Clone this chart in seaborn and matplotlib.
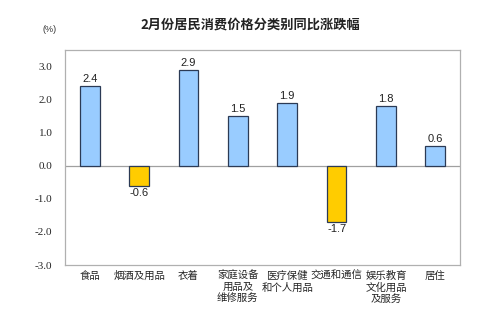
import matplotlib
matplotlib.use("Agg")
import matplotlib.pyplot as plt
import seaborn as sns
import pandas as pd

categories = ["食品", "烟酒及用品", "衣着", "家庭设备\n用品及\n维修服务", "医疗保健\n和个人用品",
              "交通和通信", "娱乐教育\n文化用品\n及服务", "居住"]
values = [2.4, -0.6, 2.9, 1.5, 1.9, -1.7, 1.8, 0.6]
yticks = [3.0, 2.0, 1.0, 0.0, -1.0, -2.0, -3.0]
title = "2月份居民消费价格分类别同比涨跌幅"

sns.set_style("white")
plt.rcParams['font.family'] = ['Noto Sans CJK SC', 'DejaVu Sans']

df = pd.DataFrame({"cat": categories, "val": values,
                   "sign": ["up" if v >= 0 else "down" for v in values]})

fig = plt.figure(figsize=(5.0, 3.26), dpi=100)
ax = fig.add_axes([0.13, 0.187, 0.79, 0.66])
sns.barplot(data=df, x="cat", y="val", hue="sign", order=categories,
            palette={"up": "#99CCFF", "down": "#FFCC00"}, dodge=False, saturation=1,
            width=0.4, edgecolor="#2B3A55", linewidth=0.9, legend=False, ax=ax)

ax.set_ylim(-3.0, 3.5)
ax.set_xlim(-0.5, len(categories) - 0.5)
ax.set_yticks(yticks)
ax.set_yticklabels([f"{t:.1f}" for t in yticks], fontfamily="Liberation Serif", fontsize=8)
ax.tick_params(axis="y", direction="in", length=3, color="#999999", pad=9)
ax.tick_params(axis="x", length=0, pad=4)
ax.set_xticks(range(len(categories)))
ax.set_xticklabels(categories, fontsize=7.5, linespacing=1.2, va="top")
ax.set_xlabel("")
ax.set_ylabel("")
ax.axhline(0, color="#A0A0A0", lw=0.9, zorder=0.5)
for s in ax.spines.values():
    s.set_color("#B0B0B0")
    s.set_linewidth(0.9)

for i, v in enumerate(values):
    if v >= 0:
        ax.text(i, v + 0.06, f"{v:.1f}", ha="center", va="bottom", fontsize=8,
                fontfamily="Liberation Sans", color="#222222")
    else:
        ax.text(i, v - 0.06, f"{v:.1f}", ha="center", va="top", fontsize=8,
                fontfamily="Liberation Sans", color="#222222")

fig.text(0.5, 0.925, title, ha="center", va="center", fontsize=9.5, fontweight="bold", color="#222222")
fig.text(0.1, 0.91, "(%)", ha="center", va="center", fontsize=6.5,
         fontfamily="Liberation Sans", color="#333333")

fig.savefig("out.png", dpi=100)
